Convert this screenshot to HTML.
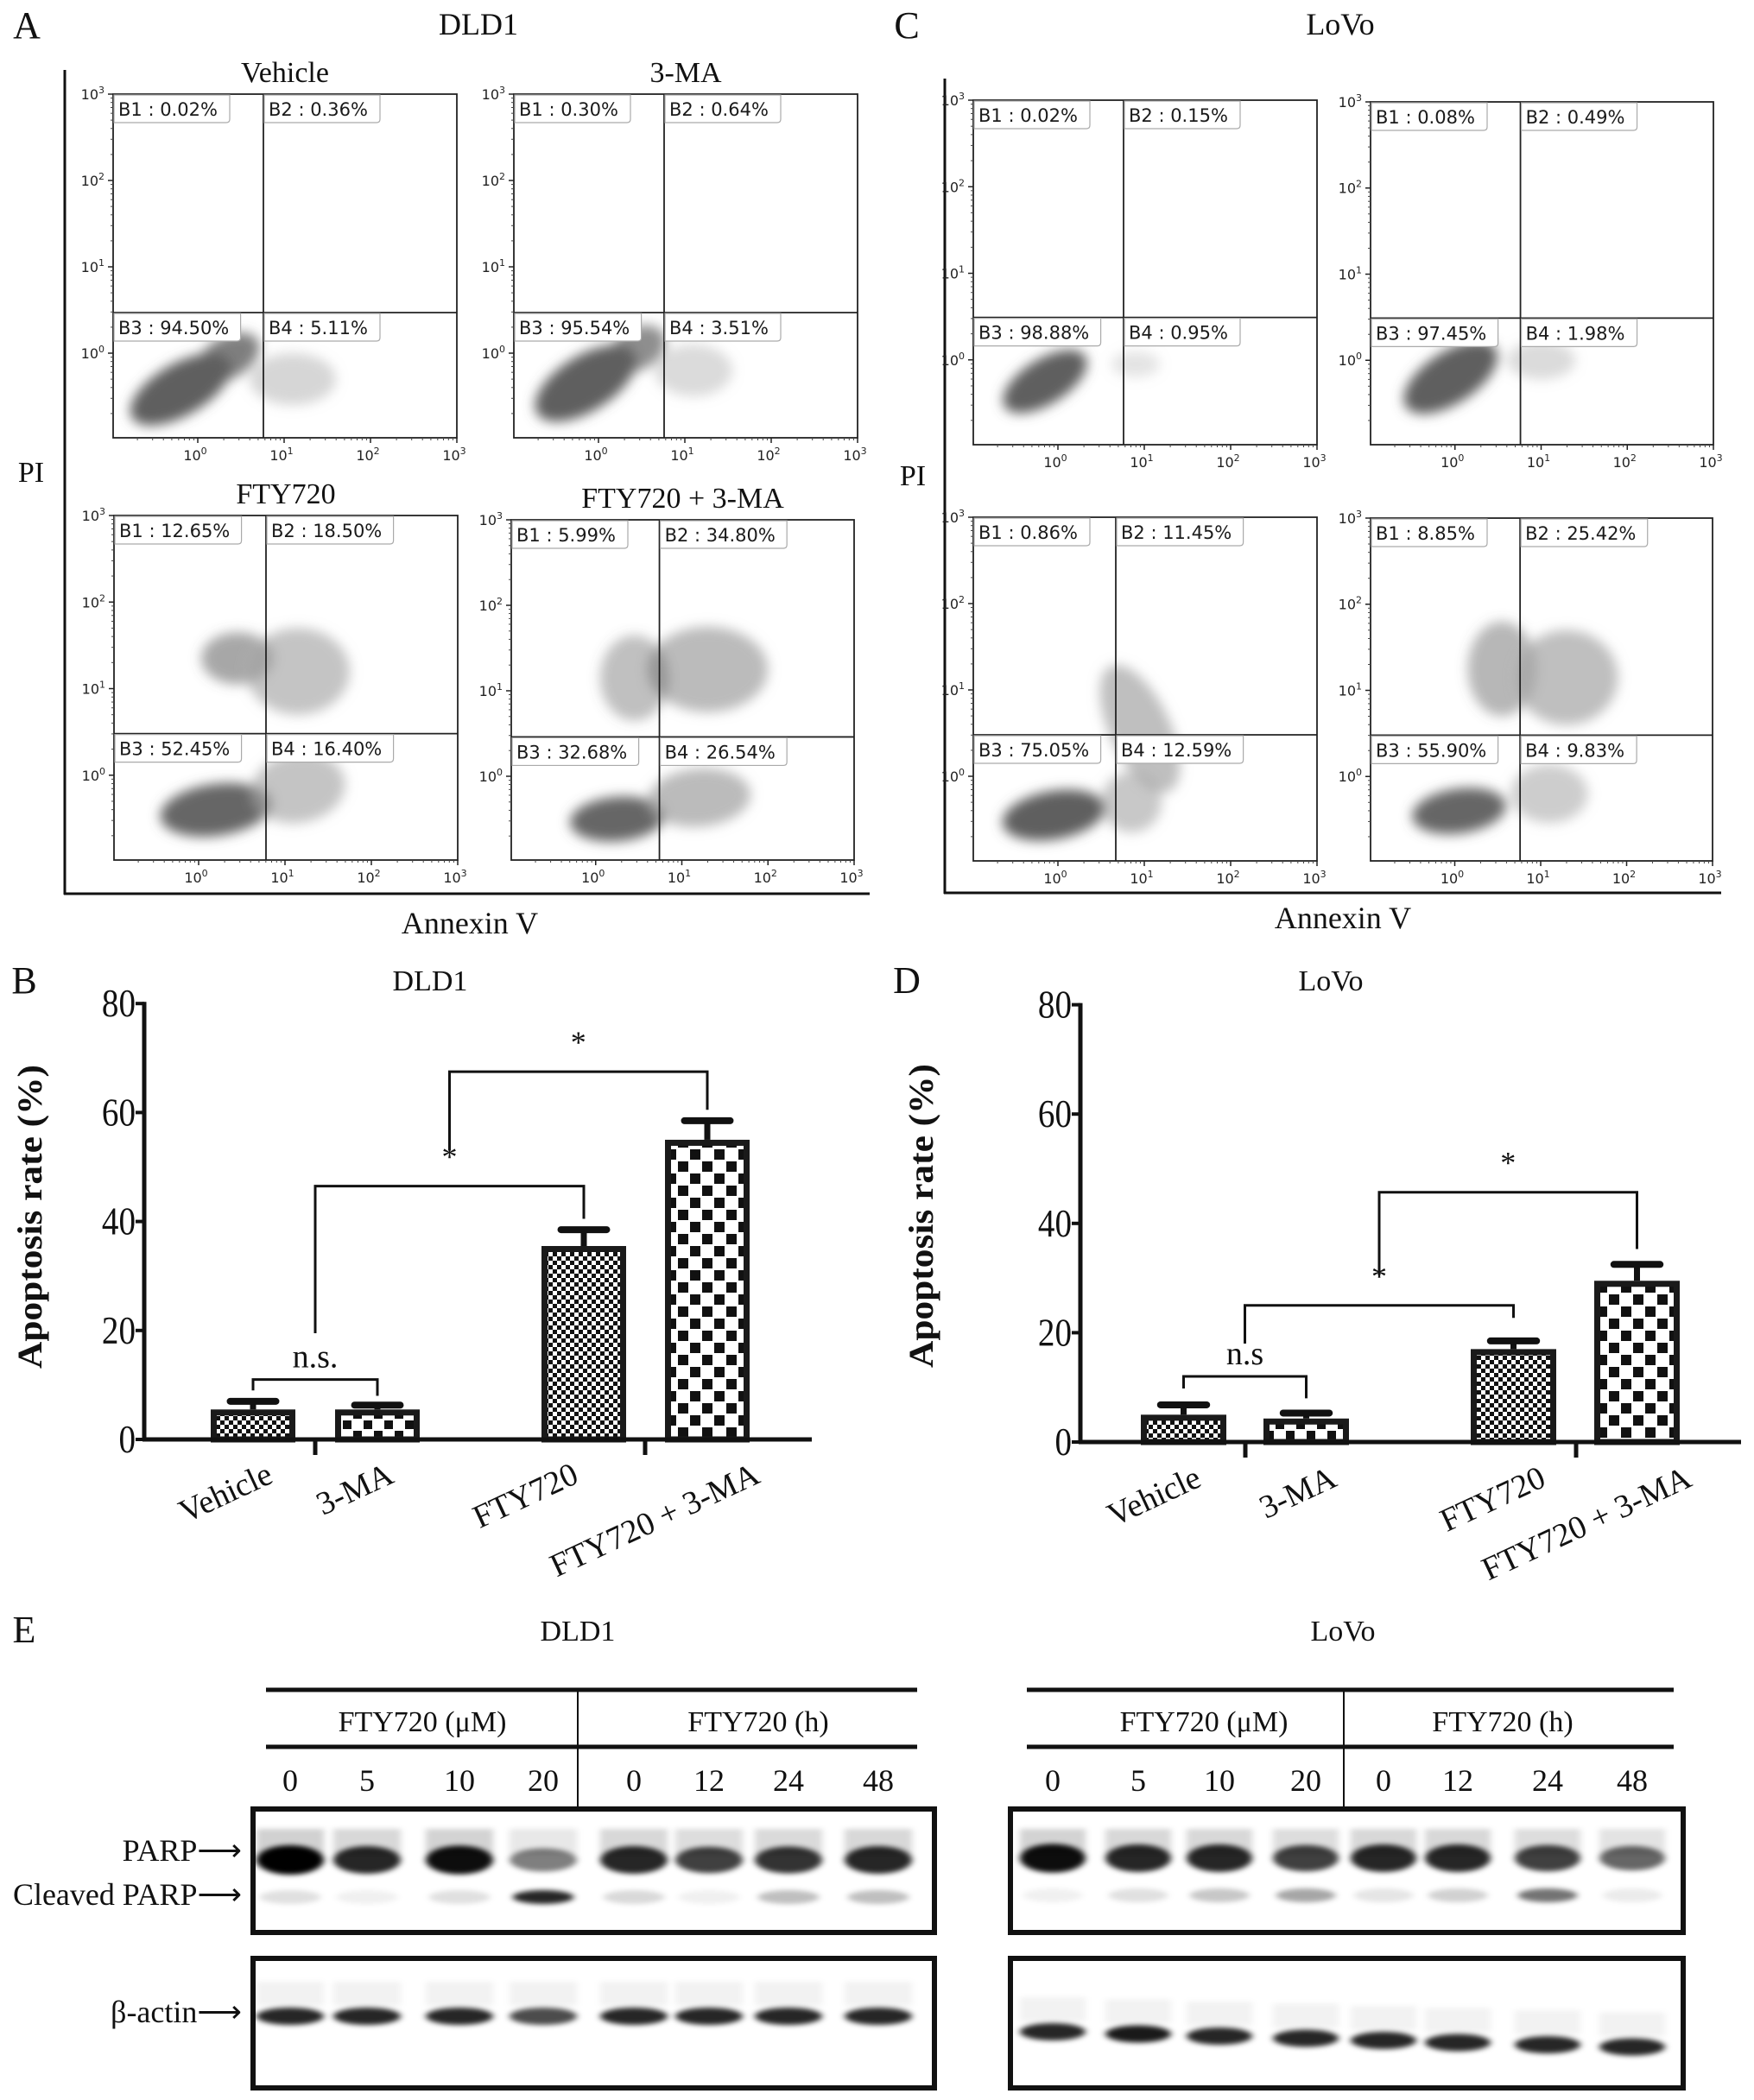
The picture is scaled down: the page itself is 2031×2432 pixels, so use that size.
<!DOCTYPE html>
<html><head><meta charset="utf-8"><title>FTY720 apoptosis figure</title>
<style>
html,body{margin:0;padding:0;background:#fff;}
svg{display:block;}
</style></head>
<body>
<svg id="fig" width="2031" height="2432" viewBox="0 0 2031 2432" xmlns="http://www.w3.org/2000/svg">
<defs>
<pattern id="pFine" width="10" height="10" patternUnits="userSpaceOnUse"><rect width="10" height="10" fill="#fff"/><rect x="0" y="0" width="5" height="5" fill="#111"/><rect x="5" y="5" width="5" height="5" fill="#111"/></pattern>
<pattern id="pMid" width="24" height="24" patternUnits="userSpaceOnUse"><rect width="24" height="24" fill="#fff"/><rect x="1" y="1" width="10" height="10" fill="#111"/><rect x="13" y="13" width="10" height="10" fill="#111"/></pattern>
<pattern id="pCoarse" width="28" height="28" patternUnits="userSpaceOnUse"><rect width="28" height="28" fill="#fff"/><rect x="1" y="1" width="12" height="12" fill="#111"/><rect x="15" y="15" width="12" height="12" fill="#111"/></pattern>
<filter id="blur" x="-50%" y="-50%" width="200%" height="200%"><feGaussianBlur stdDeviation="7"/></filter>
<filter id="bandBlur" x="-30%" y="-100%" width="160%" height="300%"><feGaussianBlur stdDeviation="4 3"/></filter>
</defs>
<g id="root"></g>
</svg>
<script>
// ---------- data: flow cytometry quadrant percentages ----------
const dldQuadLabels = [
  ["B1 : 0.02%","B2 : 0.36%","B3 : 94.50%","B4 : 5.11%"],
  ["B1 : 0.30%","B2 : 0.64%","B3 : 95.54%","B4 : 3.51%"],
  ["B1 : 12.65%","B2 : 18.50%","B3 : 52.45%","B4 : 16.40%"],
  ["B1 : 5.99%","B2 : 34.80%","B3 : 32.68%","B4 : 26.54%"]
];
const lovoQuadLabels = [
  ["B1 : 0.02%","B2 : 0.15%","B3 : 98.88%","B4 : 0.95%"],
  ["B1 : 0.08%","B2 : 0.49%","B3 : 97.45%","B4 : 1.98%"],
  ["B1 : 0.86%","B2 : 11.45%","B3 : 75.05%","B4 : 12.59%"],
  ["B1 : 8.85%","B2 : 25.42%","B3 : 55.90%","B4 : 9.83%"]
];
// gate positions (log10 units) per plot
const dldGateX = [0.76, 0.76, 0.78, 0.74];
const dldGateY = [0.47, 0.47, 0.48, 0.46];
const lovoGateX = [0.76, 0.76, 0.67, 0.76];
const lovoGateY = [0.49, 0.49, 0.48, 0.48];
// population clusters: [log cx, log cy, log rx, log ry, angle, shade(0 dark / 1 light), opacity]
const dldClusters = [
  [[-0.2,-0.42,0.65,0.3,-30,0,1],[0.35,-0.05,0.4,0.24,-30,0,0.8],[1.1,-0.3,0.5,0.3,0,1,0.45]],
  [[-0.15,-0.35,0.66,0.32,-32,0,1],[0.45,0.05,0.35,0.24,-30,0,0.7],[1.1,-0.2,0.45,0.3,0,1,0.4]],
  [[0.2,-0.4,0.65,0.3,-8,0,0.95],[0.45,1.35,0.42,0.3,0,0,0.55],[1.15,-0.15,0.55,0.4,-10,1,0.65],[1.15,1.2,0.6,0.5,0,1,0.65]],
  [[0.25,-0.5,0.55,0.26,-5,0,0.95],[1.2,-0.25,0.6,0.34,-5,1,0.75],[1.3,1.25,0.7,0.5,0,1,0.75],[0.45,1.15,0.4,0.5,0,0,0.4]]
];
const lovoClusters = [
  [[-0.15,-0.25,0.55,0.26,-32,0,1],[0.9,-0.05,0.28,0.15,0,1,0.3]],
  [[-0.05,-0.2,0.62,0.3,-33,0,1],[1.0,0.0,0.4,0.22,0,1,0.4]],
  [[-0.05,-0.45,0.6,0.28,-10,0,1],[0.95,0.55,0.35,0.8,-25,1,0.7],[0.85,-0.3,0.35,0.35,0,1,0.6]],
  [[0.05,-0.4,0.55,0.26,-8,0,0.95],[0.55,1.25,0.4,0.55,0,0,0.45],[1.3,1.15,0.6,0.55,0,1,0.7],[1.1,-0.2,0.45,0.34,0,1,0.55]]
];
const flowTickLabels = ["0","1","2","3"];

// ---------- data: apoptosis bar charts ----------
const barCategories = ["Vehicle","3-MA","FTY720","FTY720 + 3-MA"];
const dldMeans = [5.5, 5.5, 35.5, 55];
const dldErrs  = [1.5, 0.8, 3.0, 3.5];
const lovoMeans = [5.0, 4.3, 17.0, 29.5];
const lovoErrs  = [1.8, 1.0, 1.5, 3.0];
const yTickValues = [0, 20, 40, 60, 80];
// brackets: [leftIndex, rightIndex, topValue, leftLegValue, rightLegValue, label]
const dldBrackets = [[0,1,11,9,8,"n.s."],[0.5,2,46.5,19.5,40.5,"*"],[1.25,3,67.5,53,60.5,"*"]];
const lovoBrackets = [[0,1,12,9.8,8,"n.s"],[0.5,2,25,18,22.7,"*"],[1.25,3,45.7,30.5,35.3,"*"]];

// ---------- data: western blots ----------
const laneLabels = ["0","5","10","20","0","12","24","48"];
const dldParp    = [1.0,0.85,0.95,0.5,0.85,0.75,0.8,0.85];
const dldCleaved = [0.12,0.06,0.12,0.85,0.15,0.06,0.25,0.25];
const dldActin   = [0.85,0.85,0.85,0.7,0.85,0.85,0.85,0.85];
const lovoParp    = [0.95,0.85,0.85,0.75,0.85,0.85,0.75,0.6];
const lovoCleaved = [0.06,0.12,0.22,0.35,0.1,0.18,0.55,0.08];
const lovoActin   = [0.85,0.9,0.85,0.85,0.85,0.85,0.85,0.85];

const NS='http://www.w3.org/2000/svg';
const root=document.getElementById('root');
function mk(tag, attrs, name, parent){
  const e=document.createElementNS(NS,tag);
  for(const k in attrs) e.setAttribute(k,attrs[k]);
  
  
  (parent||root).appendChild(e);
  return e;
}
function txt(x,y,s,size,name,extra,parent){
  const a=Object.assign({x:x,y:y,'font-size':size,'font-family':'"Liberation Serif", serif',fill:'#111','text-anchor':'middle'},extra||{});
  const t=mk('text',a,name,parent);
  t.textContent=s;
  return t;
}
function line(x1,y1,x2,y2,w,name,parent,col){
  return mk('line',{x1:x1,y1:y1,x2:x2,y2:y2,stroke:col||'#111','stroke-width':w},name,parent);
}

// ---------- flow plots ----------
function flowPlot(px,py,pw,ph,labels,gx,gy,clusters,title,tag){
  const g=mk('g',{},'flow-plot-'+tag);
  const sx=v=>px+(v+0.98)/3.98*pw;
  const sy=v=>py+ph-(v+0.98)/3.98*ph;
  const clip=mk('clipPath',{id:'clip-'+tag},'plot-clip',g);
  mk('rect',{x:px,y:py,width:pw,height:ph},'clip-rect',clip);
  const cg=mk('g',{filter:'url(#blur)'},'cell-population',g);
  cg.setAttribute('clip-path','url(#clip-'+tag+')');
  clusters.forEach((c,i)=>{
    const cx=sx(c[0]), cy=sy(c[1]);
    const rx=c[2]/3.98*pw, ry=c[3]/3.98*ph;
    mk('ellipse',{cx:cx,cy:cy,rx:rx,ry:ry,transform:`rotate(${c[4]} ${cx} ${cy})`,fill:c[5]?'#a4a4a4':'#5e5e5e',opacity:c[6]},'cluster-'+i,cg);
  });
  mk('rect',{x:px,y:py,width:pw,height:ph,fill:'none',stroke:'#222','stroke-width':1.8},'plot-frame',g);
  const vx=sx(gx), hy=sy(gy);
  line(vx,py,vx,py+ph,1.8,'gate-vertical',g,'#222');
  line(px,hy,px+pw,hy,1.8,'gate-horizontal',g,'#222');
  for(let d=0; d<=3; d++){
    const xx=sx(d), yy=sy(d);
    line(xx,py+ph,xx,py+ph+6,1.5,'x-tick',g,'#222');
    line(px-6,yy,px,yy,1.5,'y-tick',g,'#222');
    const tx=txt(xx-3,py+ph+26,'10',16,'x-tick-label',{'font-family':'"DejaVu Sans", sans-serif',fill:'#222'},g);
    const s1=mk('tspan',{dy:-7,'font-size':11},'tick-exp',tx); s1.textContent=flowTickLabels[d];
    const ty=txt(px-10,yy+6,'10',16,'y-tick-label',{'font-family':'"DejaVu Sans", sans-serif',fill:'#222','text-anchor':'end'},g);
    const s2=mk('tspan',{dy:-7,'font-size':11},'tick-exp',ty); s2.textContent=flowTickLabels[d];
    for(let m=2;m<=9 && d<3;m++){
      const lv=d+Math.log10(m);
      line(sx(lv),py+ph,sx(lv),py+ph+3,1,'x-minor-tick',g,'#444');
      line(px-3,sy(lv),px,sy(lv),1,'y-minor-tick',g,'#444');
    }
    for(let m=2;m<=9 && d===0;m++){
      const lv=-1+Math.log10(m);
      if(lv>-0.98){line(sx(lv),py+ph,sx(lv),py+ph+3,1,'x-minor-tick',g,'#444');line(px-3,sy(lv),px,sy(lv),1,'y-minor-tick',g,'#444');}
    }
  }
  const pos=[[px+1,py+1],[vx+1,py+1],[px+1,hy+1],[vx+1,hy+1]];
  labels.forEach((s,i)=>{
    const w=s.length*12.6+8;
    mk('path',{d:`M${pos[i][0]} ${pos[i][1]} h${w} v28 q0 4 -4 4 h${-w+4} z`,fill:'#fff',stroke:'#aaa','stroke-width':1.2},'quadrant-label-box',g);
    txt(pos[i][0]+5,pos[i][1]+24,s,21,'quadrant-label-'+(i+1),{'font-family':'"DejaVu Sans", sans-serif','text-anchor':'start',fill:'#1a1a1a'},g);
  });
  if(title) txt(px+pw/2,py-14,title,34,'plot-title',{},g);
}
// Panel A
txt(31,44,'A',44,'panel-label-a');
txt(554,40,'DLD1',36,'panel-a-title');
line(75,81,75,1036,3,'panel-a-frame-left');
line(74,1035,1007,1035,3,'panel-a-frame-bottom');
txt(36,558,'PI',34,'panel-a-y-title');
txt(544,1081,'Annexin V',36,'panel-a-x-title');
const dldBoxes=[[131,109,398,398],[595,109,398,398],[132,597,398,399],[592,602,397,394]];
const dldTitles=['Vehicle','3-MA','FTY720','FTY720 + 3-MA'];
dldBoxes.forEach((b,i)=>flowPlot(b[0],b[1],b[2],b[3],dldQuadLabels[i],dldGateX[i],dldGateY[i],dldClusters[i],dldTitles[i],'dld'+i));
// Panel C
txt(1050,44,'C',44,'panel-label-c');
txt(1552,40,'LoVo',36,'panel-c-title');
line(1094,91,1094,1035,3,'panel-c-frame-left');
line(1093,1034,1993,1034,3,'panel-c-frame-bottom');
txt(1057,562,'PI',34,'panel-c-y-title');
txt(1555,1075,'Annexin V',36,'panel-c-x-title');
const lovoBoxes=[[1127,116,398,399],[1587,118,397,397],[1127,599,398,398],[1587,600,396,397]];
lovoBoxes.forEach((b,i)=>flowPlot(b[0],b[1],b[2],b[3],lovoQuadLabels[i],lovoGateX[i],lovoGateY[i],lovoClusters[i],null,'lovo'+i));

// ---------- bar charts ----------
function barChart(cfg,means,errs,brackets,tag){
  const g=mk('g',{},'bar-chart-'+tag);
  const y=v=>cfg.y0-v*cfg.ppu;
  const pats=['url(#pFine)','url(#pMid)','url(#pFine)','url(#pCoarse)'];
  means.forEach((m,i)=>{
    const x=cfg.bars[i], w=cfg.bw, cx=x+w/2;
    line(cx,y(m),cx,y(m+errs[i]),7,'error-bar-'+i,g);
    line(cx-w*0.27,y(m+errs[i]),cx+w*0.27,y(m+errs[i]),8,'error-cap-'+i,g).setAttribute('stroke-linecap','round');
    mk('rect',{x:x+3.5,y:y(m)+3.5,width:w-7,height:Math.max(m*cfg.ppu-3.5,0),fill:pats[i],stroke:'#1a1a1a','stroke-width':7},'bar-'+i,g);
  });
  line(cfg.ax,y(80)-2,cfg.ax,cfg.y0+2,5,'y-axis',g);
  line(cfg.ax-2,cfg.y0,cfg.xEnd,cfg.y0,5,'x-axis',g);
  cfg.ticksX.forEach(t=>line(t,cfg.y0,t,cfg.y0+18,5,'x-group-tick',g));
  yTickValues.forEach(v=>{
    line(cfg.ax-10,y(v),cfg.ax,y(v),4,'y-tick',g);
    txt(cfg.ax-10,y(v)+15,String(v),46,'y-tick-label',{'text-anchor':'end',transform:`translate(${(cfg.ax-10)*0.15} 0) scale(0.85 1)`},g);
  });
  barCategories.forEach((c,i)=>{
    const p=cfg.labels[i];
    txt(p[0],p[1],c,38,'x-label-'+i,{'text-anchor':'end',transform:`rotate(-25 ${p[0]} ${p[1]})`},g);
  });
  const bx=k=>{const i=Math.floor(k),f=k-i;const c0=cfg.bars[i]+cfg.bw/2;if(f===0)return c0;const c1=cfg.bars[i+1]+cfg.bw/2;return c0+(c1-c0)*f;};
  const centers=[];
  brackets.forEach((b,j)=>{
    let xl=bx(b[0]);
    if(j===2) xl=centers[1];
    const xr=bx(b[1]);
    mk('polyline',{points:`${xl},${y(b[3])} ${xl},${y(b[2])} ${xr},${y(b[2])} ${xr},${y(b[4])}`,fill:'none',stroke:'#111','stroke-width':3},'significance-bracket-'+j,g);
    centers.push((xl+xr)/2);
    txt((xl+xr)/2,y(b[2])-(b[5]==='*'?22:14),b[5],b[5]==='*'?36:38,'significance-label-'+j,{},g);
  });
  txt(cfg.titleX,cfg.titleY,'Apoptosis rate (%)',40,'y-axis-title',{'font-weight':'bold',textLength:352,lengthAdjust:'spacingAndGlyphs',transform:`rotate(-90 ${cfg.titleX} ${cfg.titleY})`},g);
}
txt(28,1150,'B',44,'panel-label-b');
txt(498,1147,'DLD1',34,'panel-b-title');
barChart({ax:167,y0:1667,ppu:6.31,xEnd:940,bars:[244,388,627,770],bw:98,ticksX:[365,747],
  labels:[[318,1716],[458,1716],[672,1716],[882,1716]],titleX:48,titleY:1409},dldMeans,dldErrs,dldBrackets,'dld1');
txt(1050,1150,'D',44,'panel-label-d');
txt(1541,1147,'LoVo',34,'panel-d-title');
barChart({ax:1251,y0:1670,ppu:6.33,xEnd:2016,bars:[1321,1463,1703,1846],bw:99,ticksX:[1442,1825],
  labels:[[1393,1720],[1550,1720],[1792,1720],[1961,1720]],titleX:1080,titleY:1408},lovoMeans,lovoErrs,lovoBrackets,'lovo');

// ---------- western blots ----------
function blot(cfg,parp,cleaved,actin,tag){
  const g=mk('g',{},'western-blot-'+tag);
  line(cfg.l0,1957,cfg.l1,1957,5,'header-line-top',g);
  line(cfg.l0,2023,cfg.l1,2023,5,'header-line-bottom',g);
  line(cfg.div,1957,cfg.div,2093,2,'header-divider',g);
  txt(cfg.h1,2005,'FTY720 (μM)',34,'header-dose',{},g);
  txt(cfg.h2,2005,'FTY720 (h)',34,'header-time',{},g);
  laneLabels.forEach((s,i)=>txt(cfg.lanes[i],2074,s,36,'lane-label-'+i,{},g));
  mk('rect',{x:cfg.g0+3,y:2095,width:cfg.g1-cfg.g0-6,height:143,fill:'#fff',stroke:'#111','stroke-width':6},'parp-blot-frame',g);
  mk('rect',{x:cfg.g0+3,y:2268,width:cfg.g1-cfg.g0-6,height:150,fill:'#fff',stroke:'#111','stroke-width':6},'actin-blot-frame',g);
  const bg=mk('g',{filter:'url(#bandBlur)'},'bands',g);
  cfg.lanes.forEach((x,i)=>{
    const w=cfg.bw;
    mk('rect',{x:x-w/2,y:2118,width:w,height:30,fill:'#000',opacity:parp[i]*0.18},'parp-smear-'+i,bg);
    mk('ellipse',{cx:x,cy:cfg.parpY,rx:w/2,ry:10+parp[i]*7,fill:'#000',opacity:parp[i]},'parp-band-'+i,bg);
    mk('ellipse',{cx:x,cy:cfg.clY,rx:w/2.2,ry:8,fill:'#000',opacity:cleaved[i]},'cleaved-parp-band-'+i,bg);
    mk('rect',{x:x-w/2,y:cfg.actY(i)-40,width:w,height:28,fill:'#000',opacity:0.05},'actin-smear-'+i,bg);
    mk('ellipse',{cx:x,cy:cfg.actY(i),rx:w/2,ry:10,fill:'#000',opacity:actin[i]},'actin-band-'+i,bg);
  });
}
txt(28,1902,'E',44,'panel-label-e');
txt(669,1900,'DLD1',34,'panel-e-dld1-title');
txt(1555,1900,'LoVo',34,'panel-e-lovo-title');
blot({l0:308,l1:1062,div:669,h1:489,h2:878,lanes:[336,425,532,629,734,821,913,1017],g0:290,g1:1085,bw:78,parpY:2154,clY:2197,actY:i=>2335},dldParp,dldCleaved,dldActin,'dld1');
blot({l0:1189,l1:1938,div:1556,h1:1394,h2:1740,lanes:[1219,1318,1412,1512,1602,1688,1792,1890],g0:1167,g1:1952,bw:76,parpY:2152,clY:2195,actY:i=>2353+i*2.5},lovoParp,lovoCleaved,lovoActin,'lovo');
txt(280,2155,'PARP⟶',36,'parp-label',{'text-anchor':'end'});
txt(280,2206,'Cleaved PARP⟶',36,'cleaved-parp-label',{'text-anchor':'end',textLength:265,lengthAdjust:'spacingAndGlyphs'});
txt(280,2342,'β-actin⟶',36,'beta-actin-label',{'text-anchor':'end'});
</script>
</body></html>
